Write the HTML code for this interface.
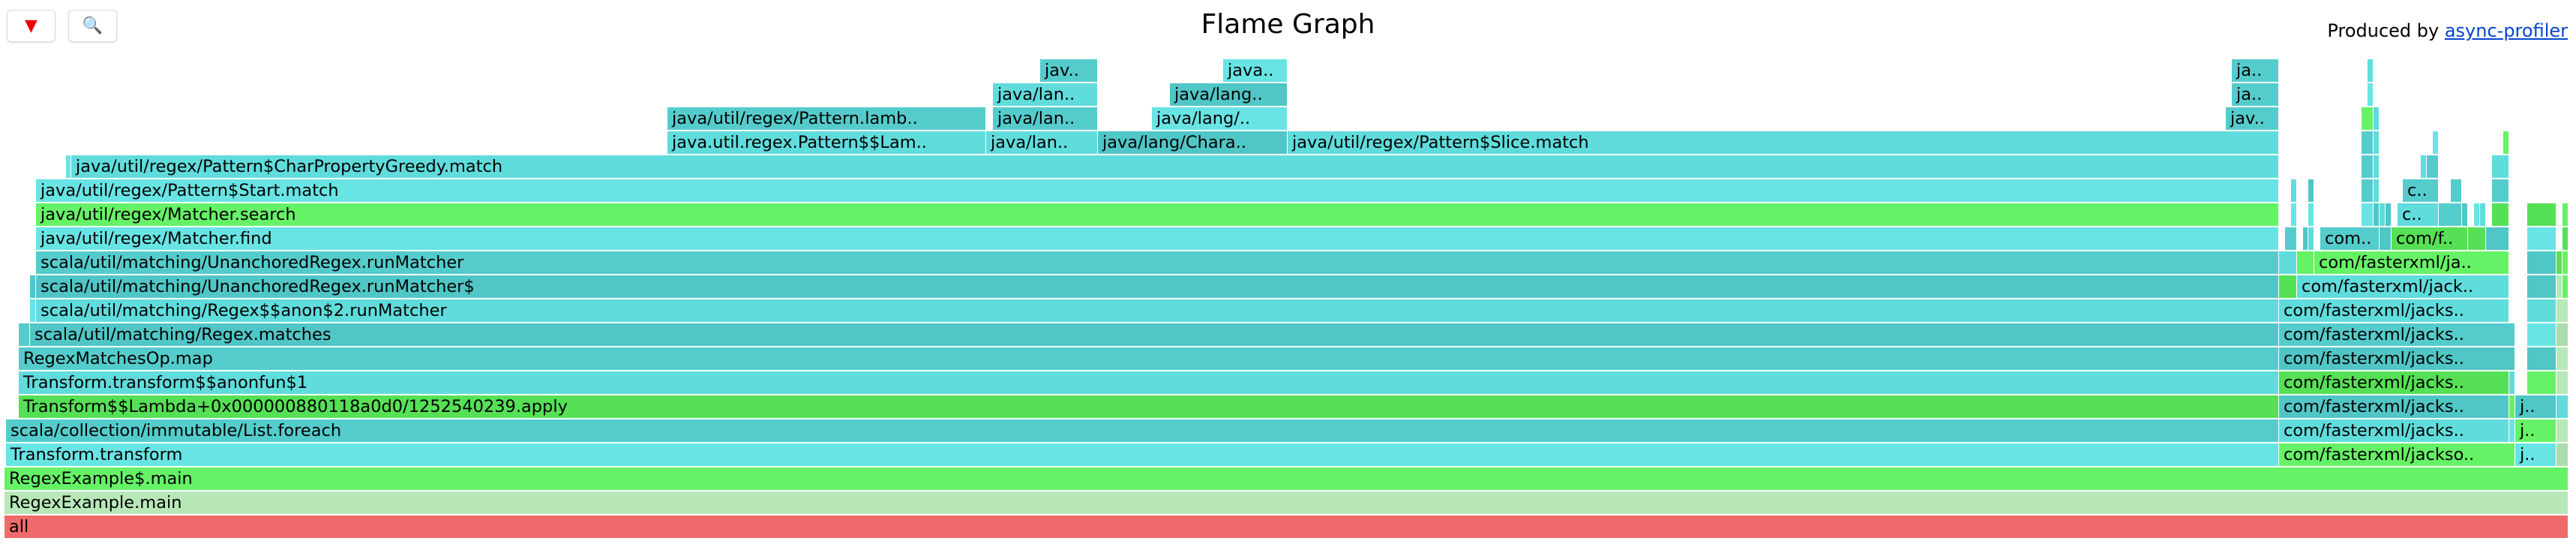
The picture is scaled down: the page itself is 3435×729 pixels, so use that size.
<!DOCTYPE html>
<html><head><meta charset="utf-8"><style>
body{margin:0;width:3435px;height:729px;background:#fff;position:relative;overflow:hidden;font-family:"DejaVu Sans","Liberation Sans",sans-serif}
.b{position:absolute;height:30px;overflow:hidden;white-space:nowrap;font-size:22.5px;line-height:31px;color:#000;padding-left:6px;box-sizing:border-box}
.c1{background:#60dcdc}.c2{background:#55cccc}.c3{background:#68e4e4}.c4{background:#50c6c6}
.g1{background:#66f266}.g2{background:#55e055}.g3{background:#b8e8b8}.g4{background:#acdcac}
.btn{position:absolute;top:13px;width:63px;height:41px;border:1px solid #ddd;border-radius:6px;background:#fff;box-shadow:0 1px 2px rgba(0,0,0,.15);text-align:center;line-height:41px;font-size:22px}
</style></head><body>
<div class="btn" style="left:9px;color:#e00">&#9660;</div>
<div class="btn" style="left:91px">&#128269;</div>
<div style="position:absolute;left:0;width:3435px;top:12px;text-align:center;font-size:36px">Flame Graph</div>
<div style="position:absolute;right:11px;top:27px;font-size:24px">Produced by <span style="color:#0645d0;text-decoration:underline">async-profiler</span></div>
<div id="fg"></div>
<script>
var R=[
[687,[[6,3425,'#ef6a6a','all']]],
[655,[[6,3425,'g3','RegexExample.main']]],
[623,[[6,3425,'g1','RegexExample$.main']]],
[591,[[8,3039,'c3','Transform.transform'],[3039,3354,'g1','com/fasterxml/jackso..'],[3354,3409,'c3','j..'],[3409,3425,'g4','']]],
[559,[[8,3039,'c2','scala/collection/immutable/List.foreach'],[3039,3346,'c1','com/fasterxml/jacks..'],[3346,3354,'c3',''],[3354,3409,'g1','j..'],[3409,3425,'g3','']]],
[527,[[25,3039,'g2','Transform$$Lambda+0x000000880118a0d0/1252540239.apply'],[3039,3346,'c4','com/fasterxml/jacks..'],[3346,3354,'g1',''],[3354,3409,'c4','j..'],[3409,3425,'c1','']]],
[495,[[25,3039,'c1','Transform.transform$$anonfun$1'],[3039,3346,'g2','com/fasterxml/jacks..'],[3346,3354,'c1',''],[3370,3409,'g1',''],[3409,3425,'g3','']]],
[463,[[25,3039,'c2','RegexMatchesOp.map'],[3039,3354,'c4','com/fasterxml/jacks..'],[3370,3409,'c4',''],[3409,3425,'g3','']]],
[431,[[25,40,'c2',''],[40,3039,'c4','scala/util/matching/Regex.matches'],[3039,3354,'c2','com/fasterxml/jacks..'],[3370,3409,'c3',''],[3409,3425,'g4','']]],
[399,[[40,48,'c3',''],[48,3039,'c1','scala/util/matching/Regex$$anon$2.runMatcher'],[3039,3346,'c1','com/fasterxml/jacks..'],[3370,3409,'c1',''],[3409,3425,'g3','']]],
[367,[[40,48,'c4',''],[48,3039,'c4','scala/util/matching/UnanchoredRegex.runMatcher$'],[3039,3063,'g2',''],[3063,3346,'c1','com/fasterxml/jack..'],[3370,3409,'c4',''],[3409,3417,'g3',''],[3417,3425,'g1','']]],
[335,[[48,3039,'c2','scala/util/matching/UnanchoredRegex.runMatcher'],[3039,3063,'c1',''],[3063,3086,'g1',''],[3086,3346,'g1','com/fasterxml/ja..'],[3370,3409,'c4',''],[3409,3417,'g2',''],[3417,3425,'g1','']]],
[303,[[48,3039,'c3','java/util/regex/Matcher.find'],[3047,3063,'c2',''],[3071,3078,'c4',''],[3078,3086,'c1',''],[3094,3173,'c2','com..'],[3173,3189,'c4',''],[3189,3291,'g2','com/f..'],[3291,3315,'g2',''],[3315,3346,'c4',''],[3370,3409,'c3',''],[3417,3425,'g2','']]],
[271,[[48,3039,'g1','java/util/regex/Matcher.search'],[3055,3063,'c3',''],[3078,3086,'c3',''],[3149,3165,'c3',''],[3165,3173,'c4',''],[3173,3181,'c1',''],[3181,3189,'c4',''],[3197,3252,'c1','c..'],[3252,3283,'c2',''],[3283,3291,'c4',''],[3299,3307,'c3',''],[3307,3315,'c1',''],[3323,3346,'g2',''],[3370,3409,'g2',''],[3417,3425,'g1','']]],
[239,[[48,3039,'c3','java/util/regex/Pattern$Start.match'],[3055,3063,'c1',''],[3078,3086,'c4',''],[3149,3165,'c2',''],[3165,3173,'c1',''],[3204,3252,'c2','c..'],[3268,3283,'c2',''],[3323,3346,'c2','']]],
[207,[[88,95,'c3',''],[95,3039,'c1','java/util/regex/Pattern$CharPropertyGreedy.match'],[3149,3165,'c2',''],[3165,3173,'c1',''],[3228,3236,'c1',''],[3236,3252,'c2',''],[3323,3346,'c1','']]],
[175,[[890,1315,'c1','java.util.regex.Pattern$$Lam..'],[1315,1464,'c1','java/lan..'],[1464,1717,'c4','java/lang/Chara..'],[1717,3039,'c1','java/util/regex/Pattern$Slice.match'],[3149,3165,'c2',''],[3165,3173,'c1',''],[3244,3252,'c3',''],[3338,3346,'g1','']]],
[143,[[890,1315,'c2','java/util/regex/Pattern.lamb..'],[1324,1464,'c2','java/lan..'],[1536,1717,'c3','java/lang/..'],[2968,3039,'c2','jav..'],[3149,3165,'g1',''],[3165,3173,'c1','']]],
[111,[[1324,1464,'c1','java/lan..'],[1560,1717,'c4','java/lang..'],[2976,3039,'c2','ja..'],[3157,3165,'c3','']]],
[79,[[1387,1464,'c2','jav..'],[1631,1717,'c3','java..'],[2976,3039,'c2','ja..'],[3157,3165,'c1','']]]
];
var h='';R.forEach(function(r){r[1].forEach(function(f){var cls=f[2].charAt(0)=='#'?'':f[2];var st=f[2].charAt(0)=='#'?'background:'+f[2]+';':'';var w=f[1]-f[0]-1;h+='<div class="b '+cls+'" style="'+st+'left:'+f[0]+'px;top:'+r[0]+'px;width:'+w+'px">'+f[3].replace(/&/g,'&amp;')+'</div>';});});
document.getElementById('fg').innerHTML=h;
</script>
</body></html>
